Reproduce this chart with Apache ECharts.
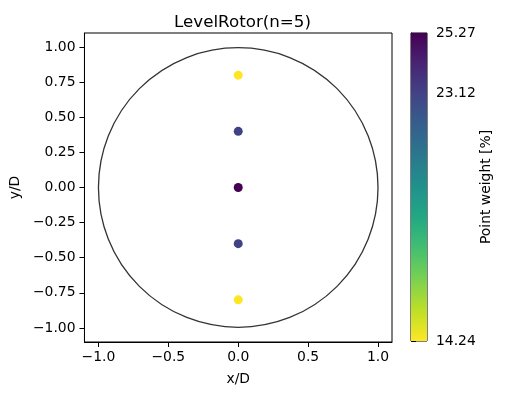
<!DOCTYPE html>
<html><head><meta charset="utf-8">
<script src="https://cdn.jsdelivr.net/npm/echarts@6/dist/echarts.min.js"></script>
<style>html,body{margin:0;padding:0;background:#fff}#c{width:505px;height:395px}</style>
</head><body><div id="c"></div>
<script>
const pointX = [0, 0, 0, 0, 0];
const pointY = [0.8, 0.4, 0.0, -0.4, -0.8];
const pointWeight = [14.24, 23.12, 25.27, 23.12, 14.24];
const xTicks = [-1.0, -0.5, 0.0, 0.5, 1.0];
const yTicks = [-1.0, -0.75, -0.5, -0.25, 0.0, 0.25, 0.5, 0.75, 1.0];
const cbTicks = [14.24, 23.12, 25.27];
const cbMin = 14.24, cbMax = 25.27;
const circle = [[0, 0, 1]]; // center x, center y, radius

const viridis = ['#440154','#482475','#414487','#355f8d','#2a788e','#21918c','#22a884','#44bf70','#7ad151','#bddf26','#fde725'];
const cmap = viridis.slice().reverse(); // low -> yellow, high -> purple

const font = 'DejaVu Sans';
const fmt = (d) => (v) => (v < 0 ? '\u2212' : '') + Math.abs(v).toFixed(d);

const chart = echarts.init(document.getElementById('c'), null, {renderer: 'canvas'});
chart.setOption({
  animation: false,
  textStyle: {fontFamily: font},
  title: {text: 'LevelRotor(n=5)', left: 237.5, top: 9, textAlign: 'center',
    textStyle: {fontFamily: font, fontSize: 16.7, fontWeight: 'normal', color: '#000'}},
  grid: [
    {left: 83, top: 33, width: 309, height: 309, show: true, borderColor: '#000', borderWidth: 1, backgroundColor: 'transparent'},
    {left: 411, top: 33, width: 16, height: 308, show: true, borderColor: '#000', borderWidth: 1, backgroundColor: 'transparent'}
  ],
  xAxis: [
    {gridIndex: 0, type: 'value', min: -1.1, max: 1.1, name: 'x/D', nameLocation: 'middle', nameGap: 30,
      nameTextStyle: {fontFamily: font, fontSize: 13.9, color: '#000'},
      axisLine: {show: true, onZero: false, lineStyle: {color: '#000', width: 1}},
      axisTick: {show: true, customValues: xTicks, length: 5, lineStyle: {color: '#000'}},
      axisLabel: {customValues: xTicks, formatter: fmt(1), fontFamily: font, fontSize: 13.9, color: '#000', margin: 8},
      splitLine: {show: false}},
    {gridIndex: 1, type: 'value', min: 0, max: 1, show: false}
  ],
  yAxis: [
    {gridIndex: 0, type: 'value', min: -1.1, max: 1.1, name: 'y/D', nameLocation: 'middle', nameGap: 58,
      nameTextStyle: {fontFamily: font, fontSize: 13.9, color: '#000'},
      axisLine: {show: true, onZero: false, lineStyle: {color: '#000', width: 1}},
      axisTick: {show: true, customValues: yTicks, length: 5, lineStyle: {color: '#000'}},
      axisLabel: {customValues: yTicks, formatter: fmt(2), fontFamily: font, fontSize: 13.9, color: '#000', margin: 9},
      splitLine: {show: false}},
    {gridIndex: 1, type: 'value', min: cbMin, max: cbMax, position: 'right', name: 'Point weight [%]',
      nameLocation: 'middle', nameGap: 52, nameRotate: 90,
      nameTextStyle: {fontFamily: font, fontSize: 13.9, color: '#000'},
      axisLine: {show: true, lineStyle: {color: '#000', width: 1}},
      axisTick: {show: true, customValues: cbTicks, length: 5, lineStyle: {color: '#000'}},
      axisLabel: {customValues: cbTicks, formatter: fmt(2), fontFamily: font, fontSize: 13.9, color: '#000', margin: 9},
      splitLine: {show: false}}
  ],
  visualMap: {show: false, type: 'continuous', min: cbMin, max: cbMax, dimension: 2, seriesIndex: 1,
    inRange: {color: cmap}},
  series: [
    {type: 'custom', xAxisIndex: 0, yAxisIndex: 0, data: circle, z: 2,
      renderItem: function (params, api) {
        const c = api.coord([api.value(0), api.value(1)]);
        const r = api.size([api.value(2), 0])[0];
        return {type: 'circle', shape: {cx: c[0], cy: c[1], r: r},
          style: {fill: 'none', stroke: '#333333', lineWidth: 1.3}};
      }},
    {type: 'scatter', xAxisIndex: 0, yAxisIndex: 0, symbolSize: 9, z: 3,
      itemStyle: {opacity: 1},
      data: pointX.map((x, i) => [x, pointY[i], pointWeight[i]])},
    {type: 'custom', xAxisIndex: 1, yAxisIndex: 1, data: [[0, cbMin, 1, cbMax]], z: 1,
      renderItem: function (params, api) {
        const p0 = api.coord([api.value(0), api.value(3)]);
        const p1 = api.coord([api.value(2), api.value(1)]);
        const stops = viridis.map((c, i) => ({offset: i / (viridis.length - 1), color: c}));
        return {type: 'rect', shape: {x: p0[0], y: p0[1], width: p1[0] - p0[0], height: p1[1] - p0[1]},
          style: {fill: new echarts.graphic.LinearGradient(0, 0, 0, 1, stops)}};
      }}
  ]
});
</script></body></html>
